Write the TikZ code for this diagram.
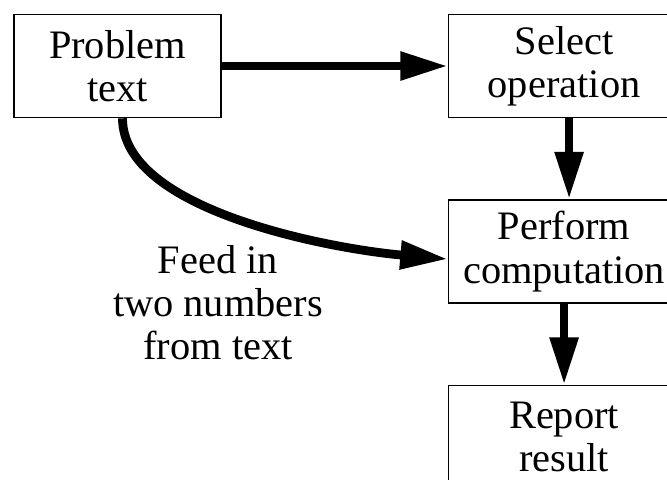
\documentclass[tikz,border=0pt]{standalone}
\usepackage{fontspec}
\setmainfont{Liberation Serif}
\usetikzlibrary{arrows.meta,positioning}

\begin{document}
\begin{tikzpicture}[
node distance = 1.62cm and 4.52cm,
box/.style = {draw, line width=0.9pt, align=center,
              minimum width=4.62cm, minimum height=2.06cm,
              inner sep=0pt,
              font=\fontsize{23}{24.5}\selectfont},
flow/.style = {line width=5pt,
               -{Triangle[length=0.95cm, width=0.54cm]}},
every label/.style = {align=center}
                ]
\useasboundingbox (0,0) rectangle (13.34,-9.58);
\clip (0,0) rectangle (13.34,-9.58);
%% \framebox[60mm]{\rule{0pt}{40mm}}

\node (prob) [box, minimum width=4.14cm] at (2.35,-1.32) {Problem\\text};
\node (sel) [box, right=of prob] {Select\\operation};
\node (comp) [box, below=of sel] {Perform\\computation};
\node (rep) [box, below=of comp] {Report\\result};
\node (feed) [align=center, font=\fontsize{23}{24.5}\selectfont]
      at (4.36,-6.05) {Feed in\\two numbers\\from text};
\draw [flow] (prob) -- (sel);
\draw [flow] ([xshift=1mm]sel.south) -- ([xshift=1mm]comp.north);
\draw [flow] (comp) -- (rep);
\draw [flow] ([xshift=1mm]prob.south)
      .. controls +(0,-1.85) and +(-2.3,0.2) .. ([yshift=-1.5mm]comp.west);
%%
\end{tikzpicture}
\end{document}
